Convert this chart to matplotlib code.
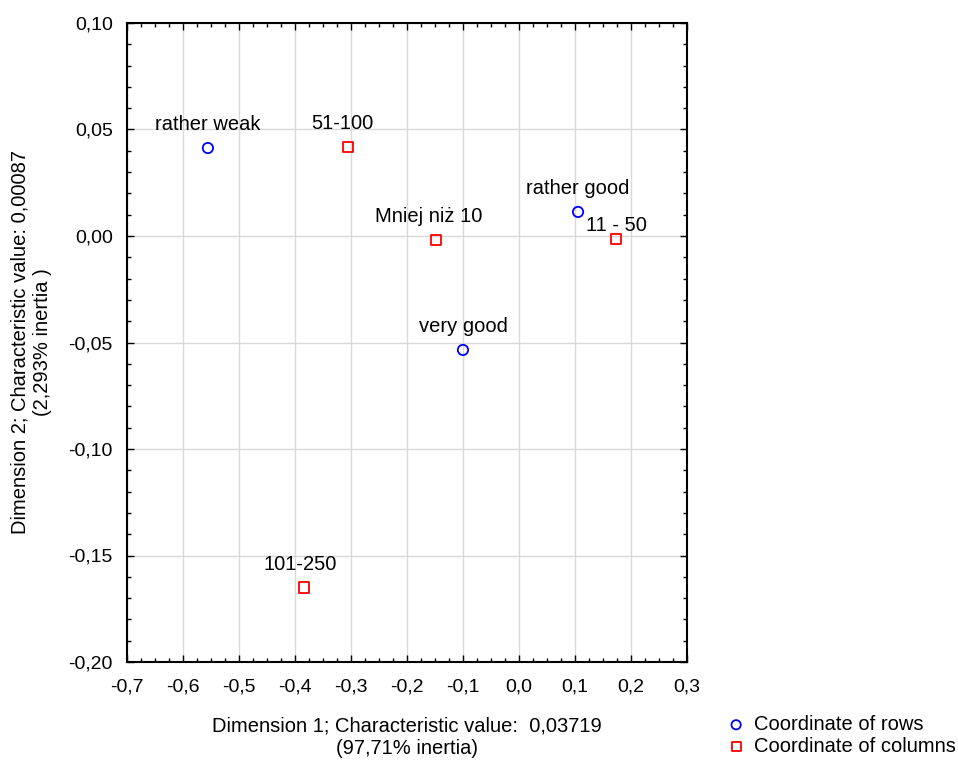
import matplotlib
matplotlib.use("Agg")
import matplotlib.pyplot as plt
from matplotlib.ticker import MultipleLocator, FuncFormatter

plt.rcParams['font.family'] = ['Liberation Sans', 'DejaVu Sans']

row_labels = ["rather weak", "rather good", "very good"]
row_x = [-0.555, 0.106, -0.0995]
row_y = [0.0413, 0.0113, -0.0535]

col_labels = ["51-100", "Mniej niż 10", "11 - 50", "101-250"]
col_x = [-0.305, -0.148, 0.174, -0.383]
col_y = [0.0418, -0.0019, -0.0014, -0.165]

FS = 14.5
TFS = 14
fig = plt.figure(figsize=(9.58, 7.63), dpi=100)
ax = fig.add_axes([126.7/958, 1-662/763, 560/958, 639/763])

ax.scatter(row_x, row_y, marker='o', s=55, facecolors='none', edgecolors='#0000ff',
           linewidths=1.3, zorder=3, label="Coordinate of rows")
ax.scatter(col_x, col_y, marker='s', s=55, facecolors='none', edgecolors='#ff0000',
           linewidths=1.3, zorder=3, label="Coordinate of columns")

for lab, x, y in zip(row_labels, row_x, row_y):
    ax.annotate(lab, (x, y), xytext=(0, 10), textcoords='offset points',
                ha='center', va='bottom', fontsize=FS)
col_off = [(-4, 10), (-5, 10), (0, 3), (-3, 10)]
for lab, x, y, off in zip(col_labels, col_x, col_y, col_off):
    ax.annotate(lab, (x, y), xytext=off, textcoords='offset points',
                ha='center', va='bottom', fontsize=FS)

ax.set_xlim(-0.7, 0.3)
ax.set_ylim(-0.20, 0.10)
ax.xaxis.set_major_locator(MultipleLocator(0.1))
ax.xaxis.set_minor_locator(MultipleLocator(0.025))
ax.yaxis.set_major_locator(MultipleLocator(0.05))
ax.yaxis.set_minor_locator(MultipleLocator(0.01))

def fx(v, p):
    s = f"{v:.1f}".replace('.', ',')
    return '0,0' if s == '-0,0' else s
def fy(v, p):
    s = f"{v:.2f}".replace('.', ',')
    return '0,00' if s == '-0,00' else s
ax.xaxis.set_major_formatter(FuncFormatter(fx))
ax.yaxis.set_major_formatter(FuncFormatter(fy))

ax.tick_params(which='both', direction='in', top=True, right=True, labelsize=TFS, color='black')
ax.tick_params(which='major', length=5, width=1)
ax.tick_params(which='minor', length=3, width=1)
ax.tick_params(axis='x', which='major', pad=12)
ax.tick_params(axis='y', which='major', pad=10)
ax.grid(True, which='major', color='#d9d9d9', linewidth=1)
ax.set_axisbelow(True)
for sp in ax.spines.values():
    sp.set_linewidth(1.5)
    sp.set_color('black')

ax.set_xlabel("Dimension 1; Characteristic value:  0,03719\n(97,71% inertia)",
              fontsize=FS, labelpad=15, linespacing=1.25)
ax.set_ylabel("Dimension 2; Characteristic value: 0,00087\n(2,293% inertia )",
              fontsize=FS, labelpad=12, linespacing=1.25)

ax.legend(loc='upper left', bbox_to_anchor=(716/958, 1-707/763), bbox_transform=fig.transFigure,
          frameon=False, fontsize=FS, handletextpad=0.3, borderaxespad=0,
          labelspacing=0.15, handlelength=1.2, markerscale=0.9)

fig.savefig("out.png", dpi=100)
